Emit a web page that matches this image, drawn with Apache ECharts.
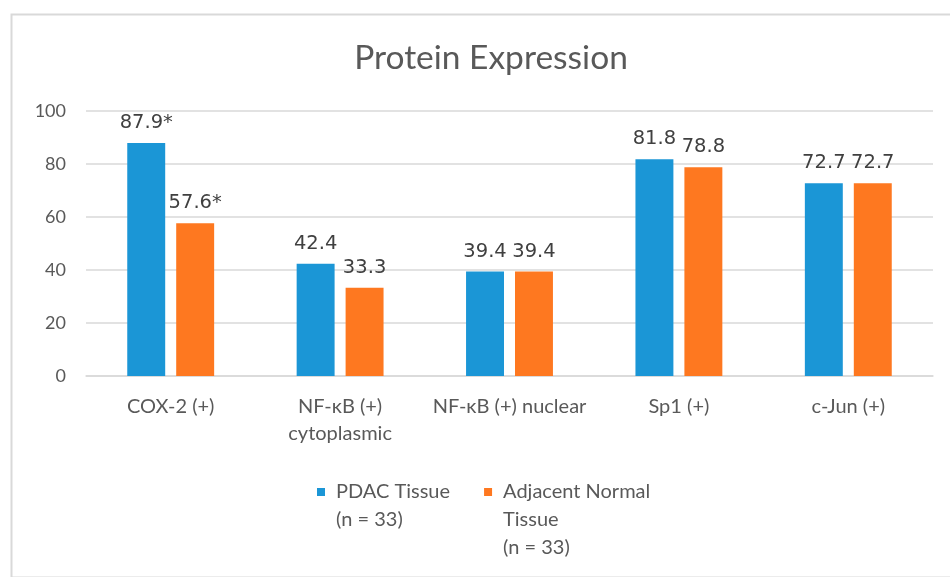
<!DOCTYPE html>
<html>
<head>
<meta charset="utf-8">
<script src="https://cdn.jsdelivr.net/npm/echarts@6/dist/echarts.min.js"></script>
<style>html,body{margin:0;padding:0;background:#fff}#c{width:950px;height:577px}</style>
</head>
<body>
<div id="c"></div>
<script>
const categories = ['COX-2 (+)', 'NF-κB (+) cytoplasmic', 'NF-κB (+) nuclear', 'Sp1 (+)', 'c-Jun (+)'];
const pdacValues = [87.9, 42.4, 39.4, 81.8, 72.7];
const normalValues = [57.6, 33.3, 39.4, 78.8, 72.7];
const pdacLabels = ['87.9*', '42.4', '39.4', '81.8', '72.7'];
const normalLabels = ['57.6*', '33.3', '39.4', '78.8', '72.7'];
const yTicks = [0, 20, 40, 60, 80, 100];
const seriesNames = ['PDAC Tissue\n(n = 33)', 'Adjacent Normal\nTissue\n(n = 33)'];

const chart = echarts.init(document.getElementById('c'));
const FONT = 'Lato';
const LH = 28;
chart.setOption({
  animation: false,
  graphic: [{
    type: 'rect', left: 9, top: 12, shape: { width: 960, height: 563 },
    style: { fill: 'none', stroke: '#d9d9d9', lineWidth: 2 }, silent: true
  }],
  title: {
    text: 'Protein Expression', left: 486, top: 36, textAlign: 'center',
    textStyle: { fontFamily: FONT, fontSize: 33.5, fontWeight: 'normal', color: '#595959' }
  },
  grid: { left: 86, right: 17, top: 111, bottom: 201, containLabel: false },
  legend: {
    left: 312, top: 417, itemWidth: 8, itemHeight: 8, itemGap: 34,
    icon: 'rect',
    textStyle: {
      fontFamily: FONT, fontSize: 20, color: '#595959', lineHeight: LH,
      rich: { a: { fontFamily: FONT, fontSize: 20, color: '#595959', lineHeight: LH, padding: [0, 0, 0, 6] } }
    },
    formatter: function (name) {
      const lines = name.split('\n');
      return '\n'.repeat(lines.length - 1) + lines.map(l => '{a|' + l + '}').join('\n');
    },
    data: seriesNames
  },
  xAxis: {
    type: 'category', data: categories,
    axisLine: { show: true, lineStyle: { color: '#d9d9d9', width: 1.5 } },
    axisTick: { show: false },
    axisLabel: {
      interval: 0, margin: 17, fontFamily: FONT, fontSize: 20, color: '#595959', lineHeight: 27,
      formatter: v => v.replace(' cytoplasmic', '\ncytoplasmic')
    }
  },
  yAxis: {
    type: 'value', min: 0, max: 100, interval: 20,
    axisLine: { show: false }, axisTick: { show: false },
    axisLabel: { margin: 20, fontFamily: FONT, fontSize: 18, color: '#595959' },
    splitLine: { lineStyle: { color: '#d9d9d9', width: 1.5 } }
  },
  series: [
    {
      name: seriesNames[0], type: 'bar', data: pdacValues, barWidth: '22.4%', barGap: '29%',
      itemStyle: { color: '#1b96d6' },
      label: { show: true, position: 'top', distance: 10, fontFamily: 'DejaVu Sans', fontSize: 19.5, color: '#404040',
        formatter: p => pdacLabels[p.dataIndex] }
    },
    {
      name: seriesNames[1], type: 'bar', data: normalValues, barWidth: '22.4%', barGap: '29%',
      itemStyle: { color: '#fe7820' },
      label: { show: true, position: 'top', distance: 10, fontFamily: 'DejaVu Sans', fontSize: 19.5, color: '#404040',
        formatter: p => normalLabels[p.dataIndex] }
    }
  ]
});
</script>
</body>
</html>
